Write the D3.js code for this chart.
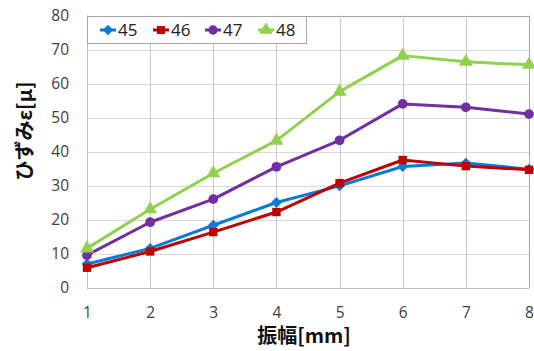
<!DOCTYPE html>
<html><head><meta charset="utf-8">
<script src="https://cdn.jsdelivr.net/npm/d3@7"></script>
<style>body{margin:0;background:#fff}</style>
</head><body>
<svg id="c" width="534" height="351"></svg>
<script>
const xTicks = [1,2,3,4,5,6,7,8];
const yTicks = [0,10,20,30,40,50,60,70,80];
const s45 = [6.9, 11.5, 18.3, 25.0, 29.9, 35.6, 36.6, 34.8];
const s46 = [5.8, 10.6, 16.3, 22.2, 30.7, 37.5, 35.7, 34.6];
const s47 = [9.5, 19.2, 26.0, 35.5, 43.3, 54.0, 53.0, 51.0];
const s48 = [11.5, 23.0, 33.6, 43.2, 57.6, 68.2, 66.4, 65.5];
const seriesNames = ["45","46","47","48"];
const seriesData = [s45, s46, s47, s48];
const colors = ["#0a7bd4","#c00000","#7030a0","#92d050"];
const symbols = [d3.symbolDiamond2, d3.symbolSquare, d3.symbolCircle, d3.symbolTriangle];
const symSizes = [75, 70, 75, 85];

const svg = d3.select("#c");
const x = d3.scaleLinear().domain([1,8]).range([87,529]);
const y = d3.scaleLinear().domain([0,80]).range([287.5,15.5]);
const tickFont = "'Open Sans', 'Liberation Sans', sans-serif";

// grid
svg.append("g").selectAll("line").data(yTicks).join("line")
  .attr("x1",x(1)).attr("x2",x(8)).attr("y1",d=>Math.round(y(d))+0.5).attr("y2",d=>Math.round(y(d))+0.5)
  .attr("stroke",d=>d===80?"#a6a6a6":"#d9d9d9").attr("stroke-width",1);
svg.append("g").selectAll("line").data(xTicks).join("line")
  .attr("y1",y(0)).attr("y2",y(80)).attr("x1",d=>Math.round(x(d))+0.5).attr("x2",d=>Math.round(x(d))+0.5)
  .attr("stroke",d=>d===8?"#a6a6a6":"#c8c8c8").attr("stroke-width",1);
// axes lines
svg.append("line").attr("x1",x(1)).attr("x2",x(8)).attr("y1",Math.round(y(0))+0.5).attr("y2",Math.round(y(0))+0.5).attr("stroke","#bfbfbf");
svg.append("line").attr("x1",Math.round(x(1))+0.5).attr("x2",Math.round(x(1))+0.5).attr("y1",y(0)).attr("y2",y(80)).attr("stroke","#bfbfbf");

// tick labels
const yAxis = d3.axisLeft(y).tickValues(yTicks).tickSize(0).tickPadding(0);
const gy = svg.append("g").attr("transform","translate(69,0)").call(yAxis);
gy.select(".domain").remove();
gy.selectAll("text").attr("font-family",tickFont).attr("font-size",15.5).attr("fill","#404040");
const xAxis = d3.axisBottom(x).tickValues(xTicks).tickSize(0).tickPadding(0).tickFormat(d3.format("d"));
const gx = svg.append("g").attr("transform","translate(0,307)").call(xAxis);
gx.select(".domain").remove();
gx.selectAll("text").attr("font-family",tickFont).attr("font-size",15.5).attr("fill","#404040");

// lines
const line = d3.line().x((d,i)=>x(xTicks[i])).y(d=>y(d));
seriesData.forEach((data,k)=>{
  svg.append("path").datum(data).attr("d",line).attr("fill","none")
    .attr("stroke",colors[k]).attr("stroke-width",3).attr("stroke-linejoin","round");
  svg.append("g").selectAll("path").data(data).join("path")
    .attr("d",d3.symbol().type(symbols[k]).size(symSizes[k]))
    .attr("transform",(d,i)=>`translate(${x(xTicks[i])},${y(d)})`)
    .attr("fill",colors[k]);
});

// legend
const lg = svg.append("g");
lg.append("rect").attr("x",87.5).attr("y",16.5).attr("width",219).attr("height",27)
  .attr("fill","#fff").attr("stroke","#a6a6a6");
const legX = [100,153,205,258];
seriesNames.forEach((n,k)=>{
  const g = lg.append("g").attr("transform",`translate(${legX[k]},30)`);
  g.append("line").attr("x1",0).attr("x2",16).attr("stroke",colors[k]).attr("stroke-width",3);
  g.append("path").attr("d",d3.symbol().type(symbols[k]).size(symSizes[k]*0.9)).attr("transform","translate(8,0)").attr("fill",colors[k]);
  g.append("text").attr("x",18).attr("y",6).text(n).attr("font-family",tickFont).attr("font-size",17).attr("fill","#222");
});

// axis titles
svg.append("text").attr("transform","translate(32,131) rotate(-90)").attr("text-anchor","middle")
  .attr("font-family","'Noto Sans CJK JP', sans-serif").attr("font-weight","bold").attr("font-size",20).attr("fill","#111")
  .text("ひずみε[μ]");
svg.append("text").attr("x",304).attr("y",343).attr("text-anchor","middle")
  .attr("font-family","'Noto Sans CJK JP', sans-serif").attr("font-weight","bold").attr("font-size",20).attr("fill","#111")
  .text("振幅[mm]");
</script>
</body></html>
